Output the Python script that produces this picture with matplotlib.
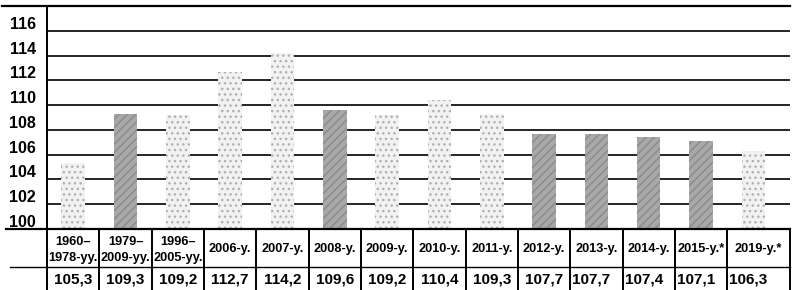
import matplotlib
matplotlib.use("Agg")
import matplotlib.pyplot as plt
from matplotlib.lines import Line2D
from matplotlib.transforms import ScaledTranslation

plt.rcParams['font.family'] = ['Liberation Sans', 'DejaVu Sans']

header_top = ["1960–", "1979–", "1996–", "", "", "", "", "", "", "", "", "", "", ""]
header_bot = ["1978-yy.", "2009-yy.", "2005-yy.", "2006-y.", "2007-y.", "2008-y.", "2009-y.",
              "2010-y.", "2011-y.", "2012-y.", "2013-y.", "2014-y.", "2015-y.*", "2019-y.*"]
values = [105.3, 109.3, 109.2, 112.7, 114.2, 109.6, 109.2, 110.4, 109.3, 107.7, 107.7, 107.4, 107.1, 106.3]
value_labels = ["105,3", "109,3", "109,2", "112,7", "114,2", "109,6", "109,2", "110,4",
                "109,3", "107,7", "107,7", "107,4", "107,1", "106,3"]
dark = [False, True, False, False, False, True, False, False, False, True, True, True, True, False]
yticks = [100, 102, 104, 106, 108, 110, 112, 114, 116]

W, H = 792, 290
fig = plt.figure(figsize=(W / 100, H / 100), dpi=100)
ax = fig.add_axes([47 / W, 1 - 229 / H, (790 - 47) / W, (229 - 6) / H])

n = len(values)
x = list(range(n))
for i in x:
    if dark[i]:
        ax.bar(i, values[i] - 100, bottom=100, width=0.45, color='#a8a8a8',
               edgecolor='#8a8a8a', hatch='////', linewidth=0, zorder=3)
    else:
        ax.bar(i, values[i] - 100, bottom=100, width=0.45, color='#f2f2f2',
               edgecolor='#b0b0b0', hatch='...', linewidth=0, zorder=3)

ax.set_xlim(-0.5, n - 0.5 + 0.2)
ax.set_ylim(100, 118)
for v in yticks[1:]:
    ax.axhline(v, color='black', lw=1.2, zorder=2)
ax.set_yticks(yticks)
ax.set_yticklabels([str(t) for t in yticks], fontsize=11.5, fontweight='bold')
ax.tick_params(axis='y', length=0, pad=8)
for lab in ax.get_yticklabels():
    lab.set_transform(lab.get_transform() + ScaledTranslation(0, 0.08, fig.dpi_scale_trans))
ax.set_xticks([])
for s in ['right', 'bottom', 'top']:
    ax.spines[s].set_visible(False)
ax.spines['left'].set_linewidth(1.4)

# figure-level lines (pixel coords)
def hline(y, x0, x1, lw=1.3):
    fig.add_artist(Line2D([x0 / W, x1 / W], [1 - y / H, 1 - y / H], color='black', lw=lw,
                          transform=fig.transFigure))

def vline(xp, y0, y1, lw=1.3):
    fig.add_artist(Line2D([xp / W, xp / W], [1 - y0 / H, 1 - y1 / H], color='black', lw=lw,
                          transform=fig.transFigure))

hline(6, 2, 790, 1.6)
hline(229, 6, 790, 1.6)
hline(267, 10, 790, 1.0)

# table column boundaries derived from axes data coords
def xpix(d):
    disp = ax.transData.transform((d, 100))
    return disp[0]

bounds = [xpix(i - 0.5) for i in x] + [790]
for b in bounds:
    vline(b, 229, 290, 1.4)

for i in x:
    cx = (bounds[i] + bounds[i + 1]) / 2
    if header_top[i]:
        fig.text(cx / W, 1 - 242 / H, header_top[i], ha='center', va='center',
                 fontsize=9.2, fontweight='bold')
        fig.text(cx / W, 1 - 258 / H, header_bot[i], ha='center', va='center',
                 fontsize=9.2, fontweight='bold')
    else:
        fig.text(cx / W, 1 - 249 / H, header_bot[i], ha='center', va='center',
                 fontsize=9.2, fontweight='bold')
    if i >= 10:
        fig.text((bounds[i] + 2) / W, 1 - 279 / H, value_labels[i], ha='left', va='center',
                 fontsize=11, fontweight='bold')
    else:
        fig.text(cx / W, 1 - 279 / H, value_labels[i], ha='center', va='center',
                 fontsize=11, fontweight='bold')

fig.savefig('out.png', dpi=100)
